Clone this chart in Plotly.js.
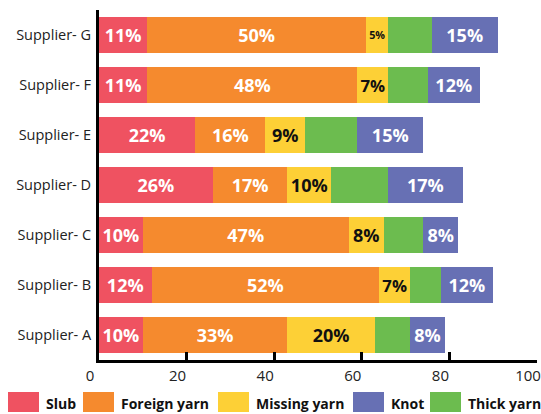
<!DOCTYPE html>
<html>
<head>
<meta charset="utf-8">
<script src="https://cdn.plot.ly/plotly-3.0.1.min.js"></script>
<style>html,body{margin:0;padding:0;background:#fff}#chart{width:541px;height:414px}</style>
</head>
<body>
<div id="chart"></div>
<script>
// Data
const suppliers = ["Supplier- A", "Supplier- B", "Supplier- C", "Supplier- D", "Supplier- E", "Supplier- F", "Supplier- G"];
const slub        = [10, 12, 10, 26, 22, 11, 11];
const foreignYarn = [33, 52, 47, 17, 16, 48, 50];
const missingYarn = [20, 7, 8, 10, 9, 7, 5];
const thickYarn   = [8, 7, 9, 13, 12, 9, 10];
const knot        = [8, 12, 8, 17, 15, 12, 15];
const xTicks = [0, 20, 40, 60, 80, 100];

const seriesNames = ["Slub", "Foreign yarn", "Missing yarn", "Thick yarn", "Knot"];
const seriesValues = [slub, foreignYarn, missingYarn, thickYarn, knot];
const colors = {"Slub": "#EF5261", "Foreign yarn": "#F58A2E", "Missing yarn": "#FDD036", "Thick yarn": "#6CBC4F", "Knot": "#6770B4"};
const textColors = {"Slub": "#ffffff", "Foreign yarn": "#ffffff", "Missing yarn": "#111111", "Thick yarn": "#ffffff", "Knot": "#ffffff"};
const showLabel = {"Slub": true, "Foreign yarn": true, "Missing yarn": true, "Thick yarn": false, "Knot": true};
const legendOrder = ["Slub", "Foreign yarn", "Missing yarn", "Knot", "Thick yarn"];

const FONT = "Open Sans, Lato, sans-serif";

const traces = seriesNames.map((name, i) => ({
  type: "bar",
  orientation: "h",
  name: name,
  y: suppliers,
  x: seriesValues[i],
  marker: {color: colors[name], line: {width: 0}},
  text: showLabel[name] ? seriesValues[i].map(v => v + "%") : undefined,
  texttemplate: showLabel[name] ? "%{text}" : "",
  textposition: showLabel[name] ? "inside" : "none",
  insidetextanchor: "middle",
  textangle: 0,
  textfont: {family: FONT, size: 18, color: textColors[name], weight: 700},
  hoverinfo: "x+name",
  showlegend: false
}));

// Manual legend (large swatches) in pixel layout
const W = 541, H = 414;
const M = {l: 99, r: 4, t: 10, b: 54};
const pw = W - M.l - M.r, ph = H - M.t - M.b;
const px2x = p => (p - M.l) / pw;
const py2y = p => (H - M.b - p) / ph;
const legendSwatchX = [8, 83, 218, 353, 430];
const swW = 31, swTop = 392, swBot = 412, textY = 403;

const shapes = [], annotations = [];
legendOrder.forEach((name, i) => {
  const x0 = legendSwatchX[i];
  shapes.push({type: "rect", xref: "paper", yref: "paper",
    x0: px2x(x0), x1: px2x(x0 + swW), y0: py2y(swBot), y1: py2y(swTop),
    fillcolor: colors[name], line: {width: 0}});
  annotations.push({xref: "paper", yref: "paper", x: px2x(x0 + swW + 5), y: py2y(textY),
    xanchor: "left", yanchor: "middle", showarrow: false, text: "<b>" + name + "</b>",
    font: {family: FONT, size: 14, color: "#111"}});
});

const layout = {
  width: W, height: H,
  margin: M,
  barmode: "stack",
  bargap: 0.28,
  paper_bgcolor: "#fff", plot_bgcolor: "#fff",
  showlegend: false,
  font: {family: FONT, color: "#222"},
  xaxis: {
    range: [0, 100], tickvals: xTicks, ticktext: xTicks.map(String),
    showgrid: false, zeroline: false,
    showline: true, linecolor: "#000", linewidth: 3,
    ticks: "inside", ticklen: 8, tickwidth: 3, tickcolor: "#000",
    ticklabelshift: -9, ticklabeloverflow: "allow",
    tickfont: {family: FONT, size: 15, color: "#222"}
  },
  yaxis: {
    type: "category", categoryorder: "array", categoryarray: suppliers,
    range: [-0.5, 6.5],
    showgrid: false, zeroline: false,
    showline: true, linecolor: "#000", linewidth: 3,
    ticks: "", ticklabelstandoff: 2,
    tickfont: {family: FONT, size: 14.5, color: "#222"}
  },
  shapes: shapes,
  annotations: annotations
};

Plotly.newPlot("chart", traces, layout, {displayModeBar: false, staticPlot: true});
</script>
</body>
</html>
